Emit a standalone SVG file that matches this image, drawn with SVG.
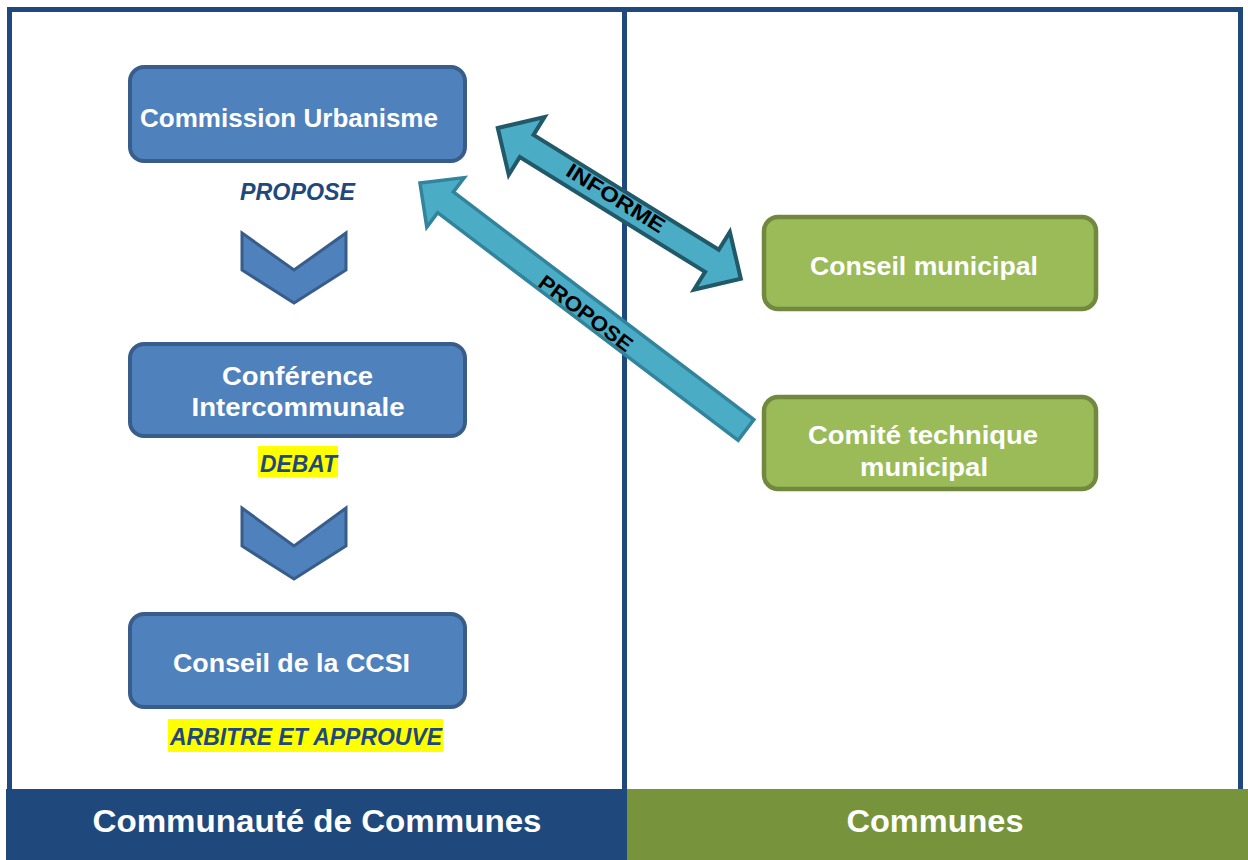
<svg xmlns="http://www.w3.org/2000/svg" width="1248" height="860" viewBox="0 0 1248 860">
<style>
.box-blue{fill:#4f81bd;stroke:#385d8a;stroke-width:4}
.box-green{fill:#9bbb59;stroke:#71893f;stroke-width:4.5}
.chev{fill:#4f81bd;stroke:#385d8a;stroke-width:3;stroke-linejoin:miter}
.t-node{font-family:"Liberation Sans",Arial,sans-serif;font-weight:bold;font-size:26px;fill:#ffffff;text-anchor:middle}
.t-verb{font-family:"Liberation Sans",Arial,sans-serif;font-weight:bold;font-style:italic;font-size:23px;fill:#1f497d;text-anchor:middle}
.t-arrow{font-family:"Liberation Sans",Arial,sans-serif;font-weight:bold;font-size:21px;fill:#000000;text-anchor:middle;dominant-baseline:central}
.t-bar{font-family:"Liberation Sans",Arial,sans-serif;font-weight:bold;font-size:31px;fill:#ffffff;text-anchor:middle}
.hl{fill:#ffff00}
.arrow{fill:#4bacc6;stroke-linejoin:miter}
</style>
<rect width="1248" height="860" fill="#ffffff"/>
<g id="frame">
  <rect x="9.5" y="9.5" width="1231" height="790" fill="none" stroke="#1f497d" stroke-width="5"/>
  <line x1="624.5" y1="9" x2="624.5" y2="789" stroke="#1f497d" stroke-width="5"/>
  <rect x="6" y="789" width="621" height="71" fill="#1f497d"/>
  <rect x="627" y="789" width="621" height="71" fill="#77933c"/>
  <text class="t-bar" x="317" y="832" textLength="449" lengthAdjust="spacingAndGlyphs">Communauté de Communes</text>
  <text class="t-bar" x="935" y="832" textLength="177" lengthAdjust="spacingAndGlyphs">Communes</text>
</g>
<g id="connectors">
  <g id="arrow-informe" transform="translate(619.3,203.4) rotate(31.8)">
    <path class="arrow" stroke="#215968" stroke-width="4" d="M -143,0 L -109,-34 L -109,-13 L 109,-13 L 109,-34 L 143,0 L 109,34 L 109,13 L -109,13 L -109,34 Z"/>
  </g>
  <g id="arrow-propose" transform="translate(746,430) rotate(37.15)">
    <path class="arrow" stroke="#31849b" stroke-width="3.5" d="M -409,0 L -377,-31 L -377,-13 L 0,-13 L 0,13 L -377,13 L -377,31 Z"/>
  </g>
  <text class="t-arrow" transform="translate(616,198) rotate(31.8)" textLength="112" lengthAdjust="spacingAndGlyphs">INFORME</text>
  <text class="t-arrow" transform="translate(586,313) rotate(37.15)" textLength="112" lengthAdjust="spacingAndGlyphs">PROPOSE</text>
  <polygon id="chevron-1" class="chev" points="242,233 294,270 346,233 346,270 294,303 242,270"/>
  <polygon id="chevron-2" class="chev" points="242,508 294,546 346,508 346,546 294,579 242,546"/>
</g>
<g id="node-commission">
  <rect class="box-blue" x="130" y="67" width="335" height="94" rx="14"/>
  <text class="t-node" x="289" y="127" textLength="298" lengthAdjust="spacingAndGlyphs">Commission Urbanisme</text>
  <text class="t-verb" x="297.5" y="200" textLength="115" lengthAdjust="spacingAndGlyphs">PROPOSE</text>
</g>
<g id="node-conference">
  <rect class="box-blue" x="130" y="344" width="335" height="92" rx="14"/>
  <text class="t-node" x="297.5" y="385" textLength="151" lengthAdjust="spacingAndGlyphs">Conférence</text>
  <text class="t-node" x="298" y="416" textLength="213" lengthAdjust="spacingAndGlyphs">Intercommunale</text>
  <rect class="hl" x="258" y="446" width="80" height="31"/>
  <text class="t-verb" x="298.5" y="472" textLength="77" lengthAdjust="spacingAndGlyphs">DEBAT</text>
</g>
<g id="node-ccsi">
  <rect class="box-blue" x="130" y="614" width="335" height="93" rx="14"/>
  <text class="t-node" x="291.5" y="672" textLength="237" lengthAdjust="spacingAndGlyphs">Conseil de la CCSI</text>
  <rect class="hl" x="168" y="719" width="275" height="33"/>
  <text class="t-verb" x="306" y="745" textLength="272" lengthAdjust="spacingAndGlyphs">ARBITRE ET APPROUVE</text>
</g>
<g id="node-conseil-municipal">
  <rect class="box-green" x="764" y="217" width="332" height="92" rx="14"/>
  <text class="t-node" x="924" y="275" textLength="228" lengthAdjust="spacingAndGlyphs">Conseil municipal</text>
</g>
<g id="node-comite">
  <rect class="box-green" x="764" y="397" width="332" height="92" rx="14"/>
  <text class="t-node" x="923" y="444" textLength="230" lengthAdjust="spacingAndGlyphs">Comité technique</text>
  <text class="t-node" x="924" y="476" textLength="128" lengthAdjust="spacingAndGlyphs">municipal</text>
</g>
</svg>
